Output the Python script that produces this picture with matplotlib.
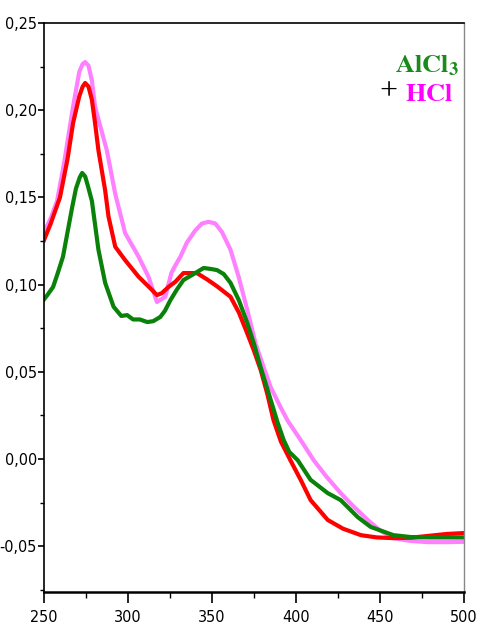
import matplotlib
matplotlib.use("Agg")
import matplotlib.pyplot as plt
from matplotlib.ticker import MultipleLocator, FuncFormatter

plt.rcParams["mathtext.fontset"] = "stix"

# --- data ---
red_x = [250, 254, 259.5, 264, 267.3, 271, 273, 274.5, 276.5, 278.5, 280.4, 282.4, 286.4, 288.4,
         292.4, 298.3, 306.3, 314.3, 317.2, 320, 324.2, 328.2, 333, 341, 347, 353, 361, 366,
         371, 375, 379, 383, 386.6, 391, 396.8, 402.8, 408.7, 418.9, 428, 438.6, 448, 458, 468,
         480, 490, 500]
red_y = [0.1255, 0.135, 0.150, 0.172, 0.1926, 0.208, 0.2135, 0.2156, 0.2135, 0.206, 0.1926,
         0.177, 0.154, 0.139, 0.1217, 0.114, 0.1045, 0.0969, 0.094, 0.095, 0.0987, 0.1016,
         0.1066, 0.1066, 0.103, 0.099, 0.093, 0.084, 0.072, 0.062, 0.051, 0.037, 0.0223, 0.010,
         -0.001, -0.012, -0.0236, -0.035, -0.040, -0.0437, -0.045, -0.0454, -0.0452, -0.044,
         -0.043, -0.0425]

pink_x = [250, 254, 257.8, 262, 267.3, 271, 273, 274.5, 276.5, 278.5, 280.4, 284, 287.4, 292.4,
          298.3, 306.3, 312.2, 317.2, 322.2, 325.8, 328.2, 331.2, 335, 340, 344, 347.9, 352,
          356, 361, 366, 371, 376, 380.7, 385, 390.8, 395, 402.8, 410.5, 418, 426.6, 434,
          442.7, 450, 458, 468, 478.5, 490, 500]
pink_y = [0.130, 0.138, 0.148, 0.170, 0.202, 0.222, 0.2265, 0.2276, 0.2255, 0.217, 0.202, 0.189,
          0.177, 0.152, 0.1295, 0.116, 0.1045, 0.090, 0.093, 0.1066, 0.111, 0.116, 0.124, 0.131,
          0.135, 0.136, 0.135, 0.130, 0.120, 0.104, 0.0854, 0.066, 0.0527, 0.041, 0.0297,
          0.022, 0.0108, -0.0007, -0.010, -0.0196, -0.027, -0.035, -0.041, -0.0454, -0.047,
          -0.0477, -0.0477, -0.0475]

green_x = [250, 252, 255.4, 258, 261.3, 264, 266.7, 269, 271.3, 272.7, 274.5, 276, 278.5,
           282.4, 286.4, 291.4, 296, 299.5, 303, 307, 311.5, 315, 319.2, 322, 325.2, 329, 333,
           339, 345, 349, 353, 357, 361, 366, 371, 375, 378.9, 383, 389, 392.6, 396, 401,
           408.7, 418.9, 426.6, 436.8, 444.5, 458, 468.4, 480, 490, 500]
green_y = [0.0915, 0.094, 0.0986, 0.106, 0.116, 0.130, 0.144, 0.155, 0.1615, 0.164, 0.162,
           0.157, 0.148, 0.120, 0.101, 0.0873, 0.082, 0.0825, 0.080, 0.080, 0.0785, 0.079,
           0.0814, 0.085, 0.091, 0.097, 0.1026, 0.106, 0.1095, 0.109, 0.1083, 0.106, 0.101,
           0.091, 0.078, 0.066, 0.0527, 0.040, 0.021, 0.011, 0.004, -0.0007, -0.012, -0.0196,
           -0.0236, -0.0334, -0.039, -0.0437, -0.0448, -0.045, -0.045, -0.045]

x_ticks = [250, 300, 350, 400, 450, 500]
y_ticks = [-0.05, 0.00, 0.05, 0.10, 0.15, 0.20, 0.25]

fig = plt.figure(figsize=(4.8, 6.36), dpi=100)
ax = fig.add_axes([44/480, 1-592/636, (464-44)/480, (592-23)/636])

lw = 3.0
ax.plot(pink_x, pink_y, color="#ff80ff", lw=lw, solid_joinstyle="round")
ax.plot(red_x, red_y, color="#ff0000", lw=lw, solid_joinstyle="round")
ax.plot(green_x, green_y, color="#0a820a", lw=lw, solid_joinstyle="round")

ax.set_xlim(250, 500)
ax.set_ylim(-0.0763, 0.25)
ax.set_xticks(x_ticks)
ax.set_yticks(y_ticks)
ax.xaxis.set_minor_locator(MultipleLocator(25))
ax.yaxis.set_minor_locator(MultipleLocator(0.025))
ax.xaxis.set_major_formatter(FuncFormatter(lambda v, p: f"{v:.0f}"))
ax.yaxis.set_major_formatter(FuncFormatter(lambda v, p: f"{v:.2f}".replace(".", ",")))

for lab in ax.get_xticklabels() + ax.get_yticklabels():
    lab.set_fontfamily("DejaVu Sans")
    lab.set_fontstretch("condensed")
    lab.set_fontsize(11.5)

ax.tick_params(axis="x", which="major", direction="out", length=8, width=1.2, pad=5)
ax.tick_params(axis="x", which="minor", direction="out", length=4, width=1.0)
ax.tick_params(axis="y", which="major", direction="out", length=4, width=1.2, pad=1)
ax.tick_params(axis="y", which="minor", direction="out", length=3, width=1.0)

ax.spines["left"].set_linewidth(1.2)
ax.spines["bottom"].set_linewidth(1.8)
ax.spines["top"].set_linewidth(1.2)
ax.spines["right"].set_color("#888888")
ax.spines["right"].set_linewidth(1.0)

T = fig.transFigure
fig.text(395/480, 1-72/636, r"$\mathbf{AlCl_3}$", transform=T, ha="left", va="baseline",
         color="#1a8a1a", fontsize=19)
fig.text(388/480, 1-92/636, "+", transform=T, ha="center", va="center",
         color="black", fontsize=23, family="Liberation Serif")
fig.text(405/480, 1-101/636, r"$\mathbf{HCl}$", transform=T, ha="left", va="baseline",
         color="#ff00ff", fontsize=19)

fig.savefig("out.png", dpi=100)
